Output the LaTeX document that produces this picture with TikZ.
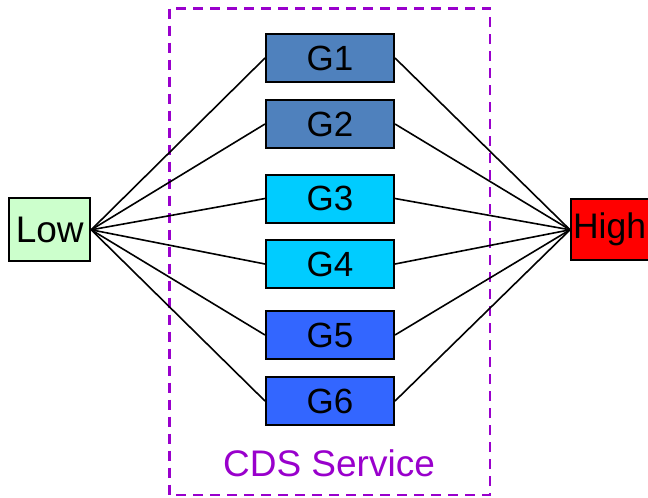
\documentclass[tikz,border=0pt]{standalone}
\usepackage{fontspec}
\setmainfont{Liberation Sans}
\definecolor{gA}{HTML}{4F81BD}
\definecolor{gB}{HTML}{00CCFF}
\definecolor{gC}{HTML}{3366FF}
\definecolor{lowc}{HTML}{CCFFCC}
\definecolor{cds}{HTML}{9900CC}
\begin{document}
\begin{tikzpicture}[x=1pt,y=-1pt,
  gbox/.style={draw=black, line width=2pt, minimum width=128pt, minimum height=48pt, inner sep=0pt, font=\fontsize{35}{35}\selectfont},
  link/.style={line width=1.6pt, black}]
\useasboundingbox (0,0) rectangle (648,498);
\draw[cds, line width=2.5pt, dash pattern=on 10pt off 7pt] (169.5,8.5) rectangle (490,495);
\node[text=cds, font=\fontsize{37}{37}\selectfont] (cdslabel) at (329,463) {CDS Service};
\node[gbox, fill=gA] (g1) at (330,58) {G1};
\node[gbox, fill=gA] (g2) at (330,124) {G2};
\node[gbox, fill=gB] (g3) at (330,198.5) {G3};
\node[gbox, fill=gB] (g4) at (330,264) {G4};
\node[gbox, fill=gC] (g5) at (330,335) {G5};
\node[gbox, fill=gC] (g6) at (330,401) {G6};
\node[draw=black, line width=2pt, fill=lowc, minimum width=81pt, minimum height=63pt, inner sep=0pt, font=\fontsize{37}{37}\selectfont] (low) at (49.7,229.8) {Low};
\node[draw=black, line width=2pt, fill=red, text width=85pt, align=left, inner xsep=2pt, inner ysep=0pt, minimum height=61pt, anchor=west, font=\fontsize{35.5}{35.5}\selectfont] (high) at (570,229.8) {High};
\foreach \g in {g1,g2,g3,g4,g5,g6}{
  \draw[link] (low.east) -- (\g.west);
  \draw[link] (\g.east) -- (high.west);
}
\end{tikzpicture}
\end{document}
